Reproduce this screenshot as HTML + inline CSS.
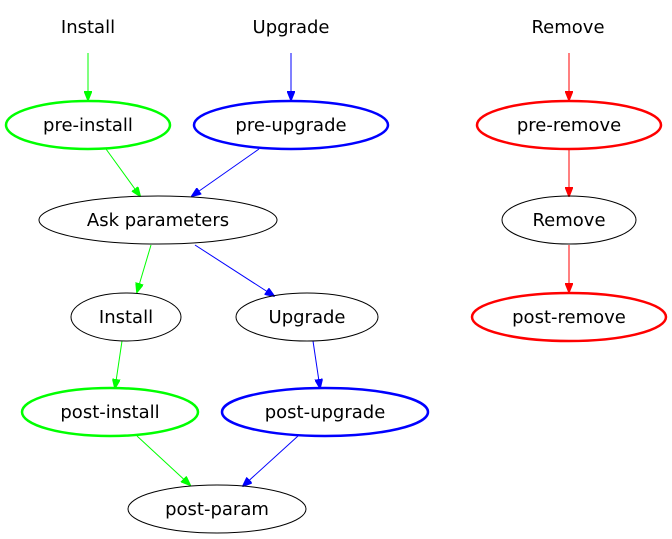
<!DOCTYPE html>
<html><head><meta charset="utf-8"><style>html,body{margin:0;padding:0;background:#fff}svg{display:block}</style></head>
<body>
<svg width="672" height="539" viewBox="0 0 672 539" xmlns="http://www.w3.org/2000/svg" font-family="DejaVu Sans, Liberation Sans, sans-serif" font-size="18">
<defs>
<marker id="ag" markerWidth="10" markerHeight="8" refX="9" refY="4" orient="auto" markerUnits="userSpaceOnUse"><path d="M0,0 L10,4 L0,8 z" fill="#00ff00" stroke="#00ff00"/></marker>
<marker id="ab" markerWidth="10" markerHeight="8" refX="9" refY="4" orient="auto" markerUnits="userSpaceOnUse"><path d="M0,0 L10,4 L0,8 z" fill="#0000ff" stroke="#0000ff"/></marker>
<marker id="ar" markerWidth="10" markerHeight="8" refX="9" refY="4" orient="auto" markerUnits="userSpaceOnUse"><path d="M0,0 L10,4 L0,8 z" fill="#ff0000" stroke="#ff0000"/></marker>
</defs>
<g fill="none">
<line x1="88" y1="53" x2="88" y2="100" stroke="#00ff00" marker-end="url(#ag)"/>
<line x1="291" y1="53" x2="291" y2="100" stroke="#0000ff" marker-end="url(#ab)"/>
<line x1="569" y1="53" x2="569" y2="100" stroke="#ff0000" marker-end="url(#ar)"/>
<line x1="106" y1="149" x2="140" y2="196" stroke="#00ff00" marker-end="url(#ag)"/>
<line x1="259" y1="149" x2="192" y2="196" stroke="#0000ff" marker-end="url(#ab)"/>
<line x1="151" y1="245" x2="137" y2="292" stroke="#00ff00" marker-end="url(#ag)"/>
<line x1="195" y1="245" x2="274" y2="296" stroke="#0000ff" marker-end="url(#ab)"/>
<line x1="122" y1="341" x2="115" y2="388" stroke="#00ff00" marker-end="url(#ag)"/>
<line x1="313" y1="341" x2="320" y2="388" stroke="#0000ff" marker-end="url(#ab)"/>
<line x1="137" y1="436" x2="190" y2="485" stroke="#00ff00" marker-end="url(#ag)"/>
<line x1="298" y1="436" x2="243" y2="486" stroke="#0000ff" marker-end="url(#ab)"/>
<line x1="569" y1="149" x2="569" y2="196" stroke="#ff0000" marker-end="url(#ar)"/>
<line x1="569" y1="245" x2="569" y2="292" stroke="#ff0000" marker-end="url(#ar)"/>
<ellipse cx="88" cy="125" rx="82" ry="24" stroke="#00ff00" stroke-width="2.5"/>
<ellipse cx="291" cy="125" rx="97" ry="24" stroke="#0000ff" stroke-width="2.5"/>
<ellipse cx="569" cy="125" rx="92" ry="24" stroke="#ff0000" stroke-width="2.5"/>
<ellipse cx="158" cy="220" rx="119" ry="24" stroke="#000"/>
<ellipse cx="569" cy="220" rx="67" ry="24" stroke="#000"/>
<ellipse cx="126" cy="317" rx="55" ry="24" stroke="#000"/>
<ellipse cx="307" cy="317" rx="71" ry="24" stroke="#000"/>
<ellipse cx="569" cy="317" rx="97" ry="24" stroke="#ff0000" stroke-width="2.5"/>
<ellipse cx="110" cy="412" rx="88" ry="24" stroke="#00ff00" stroke-width="2.5"/>
<ellipse cx="325" cy="412" rx="103" ry="24" stroke="#0000ff" stroke-width="2.5"/>
<ellipse cx="217" cy="509" rx="89" ry="24" stroke="#000"/>
</g>
<g fill="#000" text-anchor="middle">
<text x="88" y="33">Install</text>
<text x="291" y="33">Upgrade</text>
<text x="568" y="33">Remove</text>
<text x="88" y="131">pre-install</text>
<text x="291" y="131">pre-upgrade</text>
<text x="569" y="131">pre-remove</text>
<text x="158" y="226">Ask parameters</text>
<text x="569" y="226">Remove</text>
<text x="126" y="323">Install</text>
<text x="307" y="323">Upgrade</text>
<text x="569" y="323">post-remove</text>
<text x="110" y="418">post-install</text>
<text x="325" y="418">post-upgrade</text>
<text x="217" y="515">post-param</text>
</g>
</svg>
</body></html>
